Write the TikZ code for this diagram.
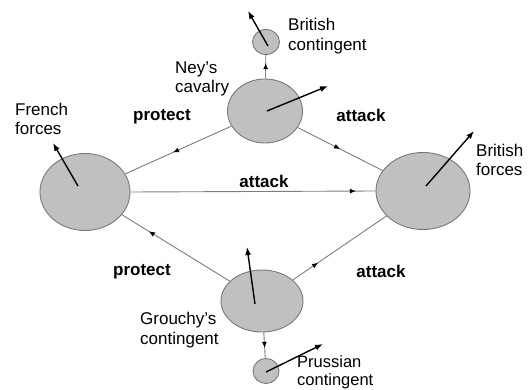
\documentclass[tikz,border=0pt]{standalone}
\usepackage{fontspec}
\setmainfont{Liberation Sans}
\usetikzlibrary{shapes.geometric,arrows.meta,decorations.markings,calc}
\definecolor{nodefill}{RGB}{192,192,192}
\definecolor{nodeline}{RGB}{120,120,120}
\definecolor{edgeline}{RGB}{125,125,125}
\tikzset{
  blob/.style={ellipse,draw=nodeline,fill=nodefill,line width=0.9pt,inner sep=0pt},
  edgeln/.style={draw=edgeline,line width=0.9pt},
  midarrow/.style={postaction={decorate},decoration={markings,mark=at position #1 with {\arrow[black]{Latex[length=6pt,width=5pt]}}}},
  vec/.style={-{Latex[length=8pt,width=6pt]},line width=1.4pt,black},
  lbl/.style={inner sep=0pt,align=left,font=\fontsize{17}{19.5}\selectfont},
  rel/.style={inner sep=0pt,font=\fontsize{17}{19.5}\selectfont\bfseries}
}
\begin{document}
\begin{tikzpicture}[x=1pt,y=-1pt]
\path[use as bounding box] (0,0) rectangle (532,390);
\begin{scope}
\clip (0,0) rectangle (532,390);
% nodes
\node[blob,minimum width=90pt,minimum height=77pt] (fr) at (85,192) {};
\node[blob,minimum width=94pt,minimum height=77pt] (br) at (423,191) {};
\node[blob,minimum width=75pt,minimum height=64pt] (ney) at (265,111) {};
\node[blob,minimum width=82pt,minimum height=62pt] (gr) at (262,301) {};
\node[blob,minimum width=27pt,minimum height=25pt] (bc) at (266,42) {};
\node[blob,minimum width=26pt,minimum height=25pt] (pc) at (266,371) {};
% connectors
\draw[edgeln,midarrow=0.55] (ney) -- (fr);
\draw[edgeln,midarrow=0.75] (gr) -- (fr);
\draw[edgeln,midarrow=0.5] (ney) -- (br);
\draw[edgeln,midarrow=0.27] (gr) -- (br);
\draw[edgeln,midarrow=0.92] (fr.east) -- (br.west);
\draw[edgeln,midarrow=0.65] (ney) -- (bc);
\draw[edgeln,midarrow=0.6] (gr) -- (pc);
% vectors
\draw[vec] ($(fr)+(-7,-6)$) -- ($(fr)+(-32,-49)$);
\draw[vec] ($(ney)+(2,0)$) -- ($(ney)+(63,-25)$);
\draw[vec] ($(bc)+(2,4)$) -- ($(bc)+(-18,-31)$);
\draw[vec] ($(br)+(3,-5)$) -- ($(br)+(51,-60)$);
\draw[vec] ($(gr)+(-7,3)$) -- ($(gr)+(-15,-54)$);
\draw[vec] ($(pc)+(0,1)$) -- ($(pc)+(57,-27)$);
% labels
\node[lbl,anchor=west] (lney) at (175,79) {Ney's\\cavalry};
\node[lbl,anchor=west] (lbc) at (288,36) {British\\contingent};
\node[lbl,anchor=west] (lfr) at (15,119) {French\\forces};
\node[lbl,anchor=west] (lbr) at (476,160) {British\\forces};
\node[lbl,anchor=west] (lgr) at (140,330) {Grouchy's\\contingent};
\node[lbl,anchor=south west,font=\fontsize{16.5}{18}\selectfont] (lpc) at (297,389.5) {Prussian\\contingent};
\node[rel] (p1) at (162,117) {protect};
\node[rel] (a1) at (361,115) {attack};
\node[rel] (a2) at (264,181) {attack};
\node[rel] (p2) at (142,272) {protect};
\node[rel] (a3) at (381,271) {attack};
\end{scope}
\end{tikzpicture}
\end{document}
